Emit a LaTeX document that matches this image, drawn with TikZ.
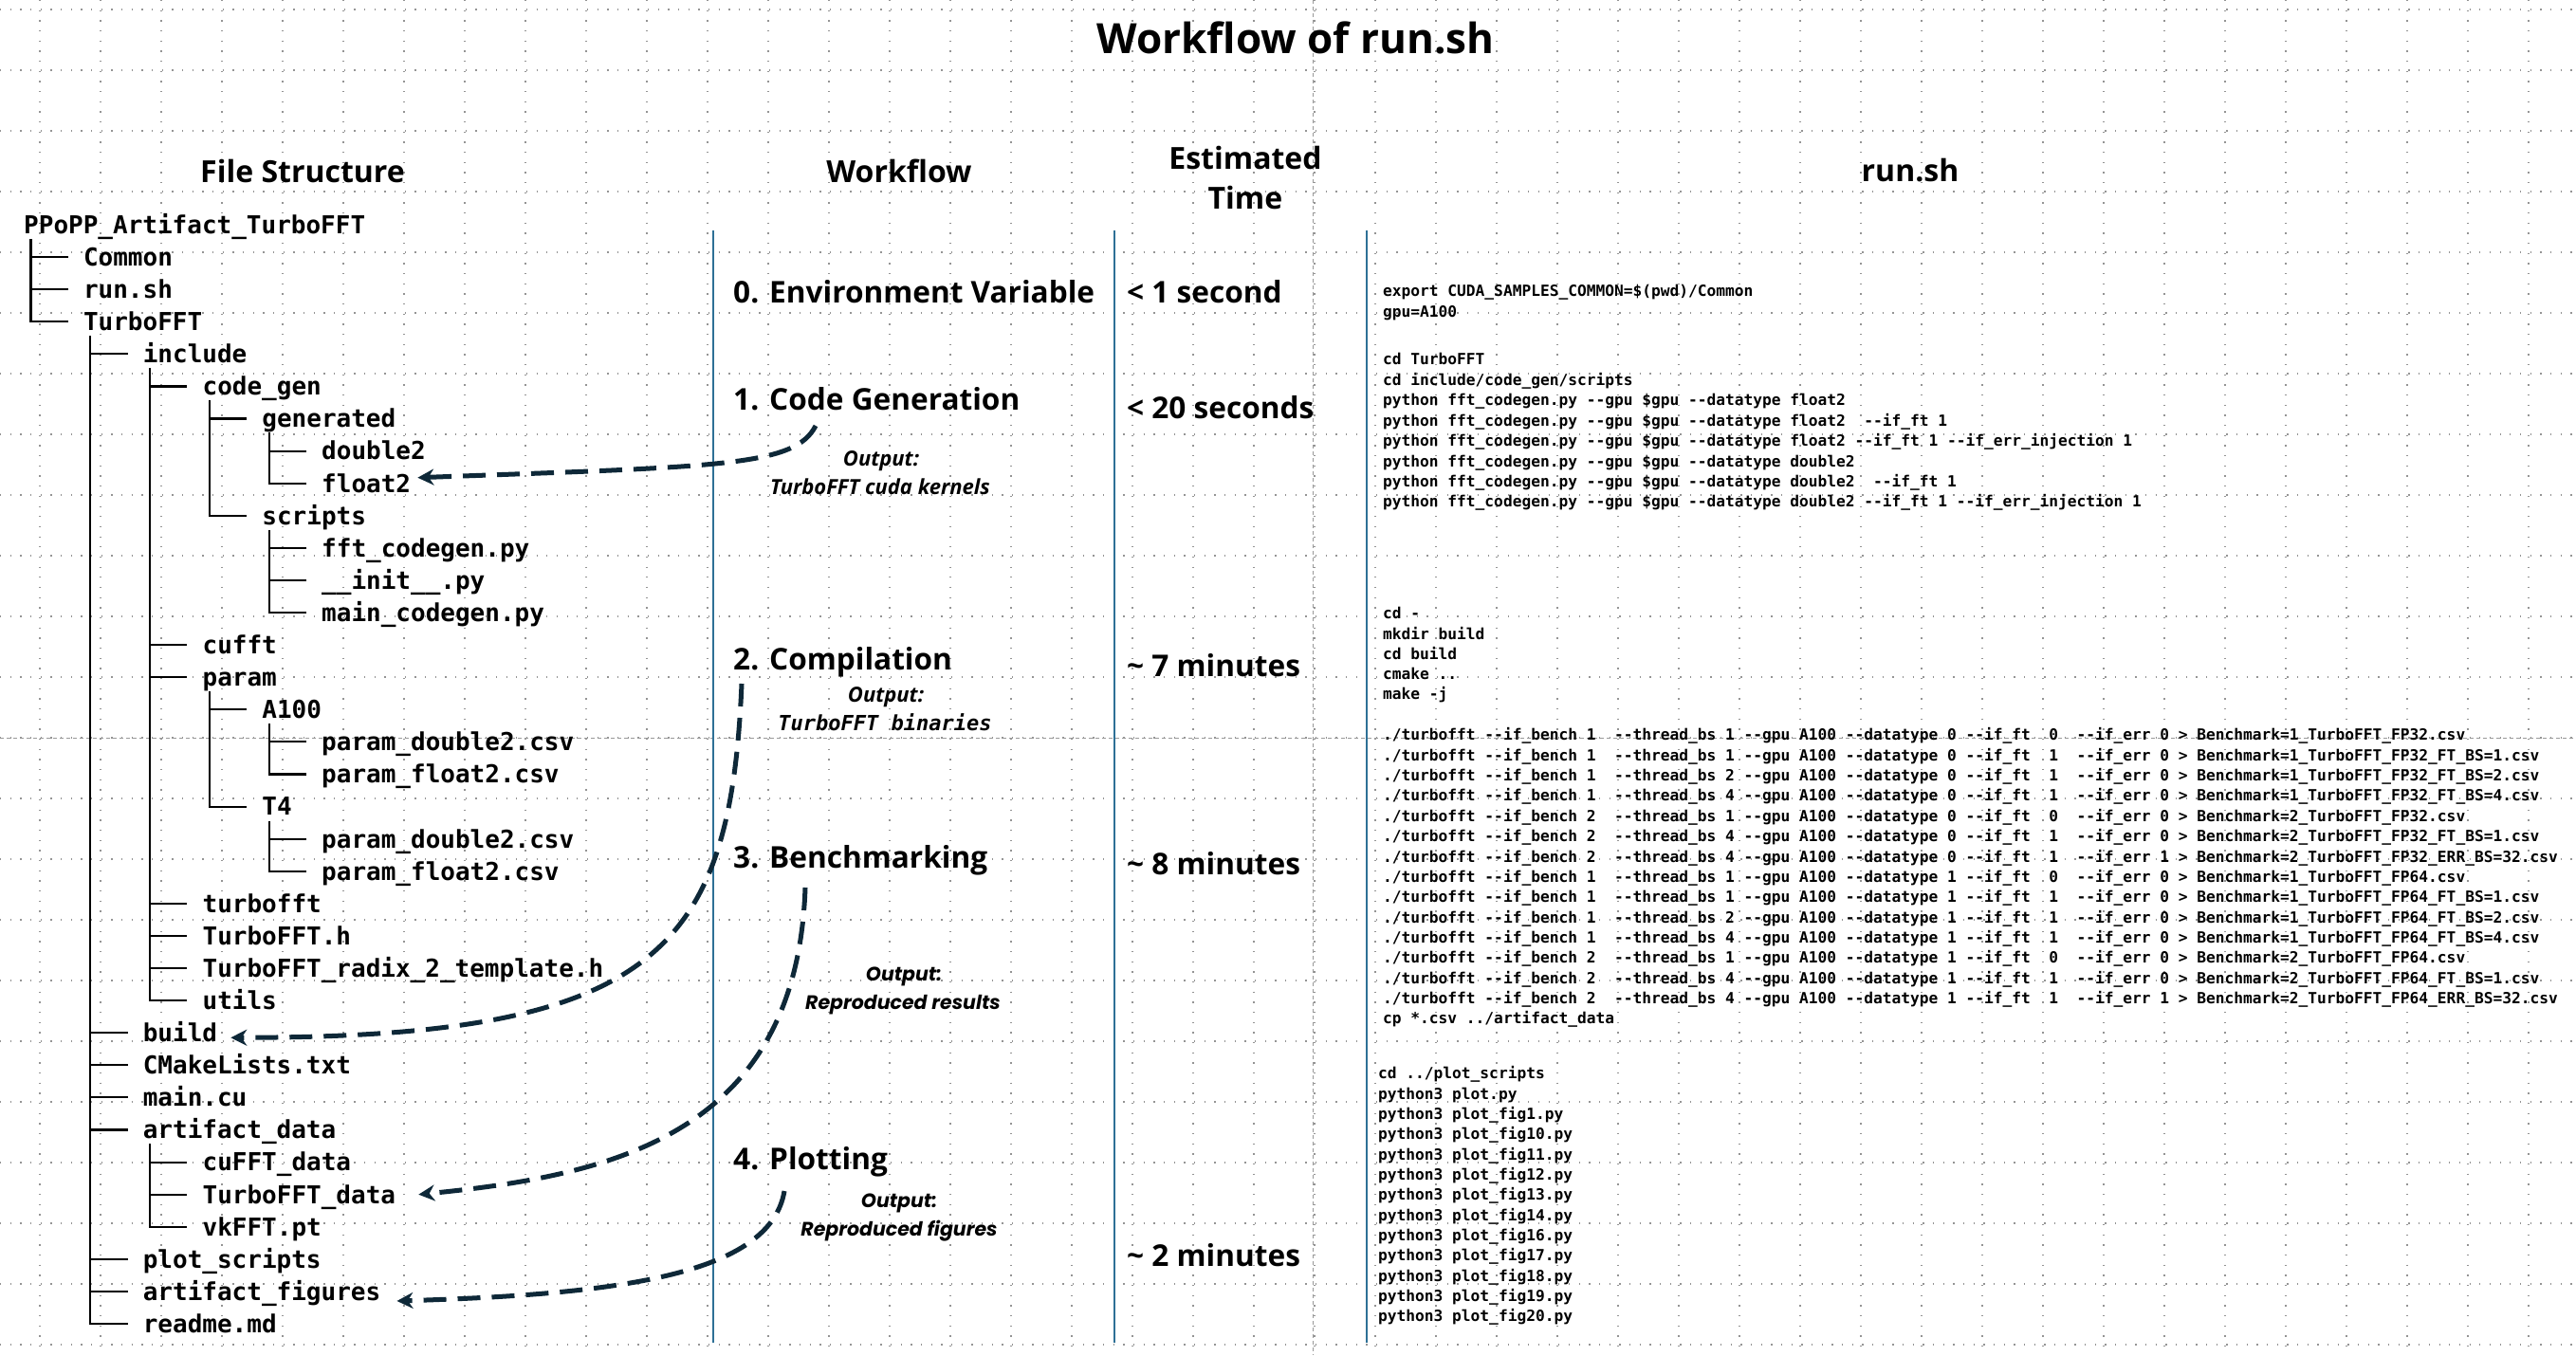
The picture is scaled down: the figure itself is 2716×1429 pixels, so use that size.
\documentclass[tikz,border=0pt]{standalone}
\usepackage{fontspec}
\setmainfont{Open Sans}
\setmonofont{DejaVu Sans Mono}
\newfontfamily\poppins{Poppins}
\usetikzlibrary{arrows.meta}
\definecolor{linkblue}{RGB}{46,112,150}
\definecolor{arrowc}{RGB}{14,40,56}
\newcommand\tbl[6]{./turbofft --if\_bench #1~~--thread\_bs #2 --gpu A100 --datatype #3 --if\_ft~~#4~~--if\_err #5 > Benchmark=#6.csv}
\begin{document}
\begin{tikzpicture}[x=1pt,y=-1pt,
  griddots/.style={line width=1.3pt, black!42, dash pattern=on 1.3pt off 9.37pt},
  guide/.style={line width=1pt, black!40, dash pattern=on 4pt off 3pt},
  colline/.style={line width=1.6pt, linkblue},
  treeline/.style={line width=2.1pt, black, line cap=rect},
  treel/.style={font=\ttfamily\bfseries\fontsize{26pt}{30pt}\selectfont, anchor=west, inner sep=0pt, text height=18.7pt, text depth=0pt},
  codel/.style={font=\ttfamily\bfseries\fontsize{16.2pt}{20pt}\selectfont, anchor=west, inner sep=0pt, text height=11.7pt, text depth=0pt},
  titlel/.style={font=\bfseries\fontsize{44pt}{50pt}\selectfont, inner sep=0pt},
  headl/.style={font=\bfseries\fontsize{32pt}{42pt}\selectfont, inner sep=0pt, align=center},
  stepl/.style={font=\bfseries\fontsize{31.6pt}{36pt}\selectfont, anchor=west, inner sep=0pt, text height=22.4pt, text depth=0pt},
  timel/.style={stepl},
  outl/.style={font=\bfseries\itshape\fontsize{22pt}{28pt}\selectfont, inner sep=0pt, text height=16pt, text depth=0pt},
  outm/.style={font=\ttfamily\bfseries\itshape\fontsize{22pt}{26pt}\selectfont, inner sep=0pt, text height=16pt, text depth=0pt},
  outp/.style={font=\poppins\bfseries\itshape\fontsize{20.5pt}{24pt}\selectfont, inner sep=0pt, text height=14.8pt, text depth=0pt},
  flowarrow/.style={line width=5pt, arrowc, dash pattern=on 24pt off 12pt, -{Stealth[length=17pt,width=17pt]}}
]
\useasboundingbox (0,0) rectangle (2716,1429);
\fill[white] (0,0) rectangle (2716,1429);
% grid
\foreach \k in {0,...,41} \draw[griddots] ({42+64*\k},0) -- ({42+64*\k},1429);
\foreach \k in {0,...,22} \draw[griddots] (0,{10+64*\k}) -- (2716,{10+64*\k});
\draw[guide] (0,778) -- (2716,778);
\draw[guide] (1384,0) -- (1384,1429);
% column separators
\draw[colline] (752,243) -- (752,1416);
\draw[colline] (1175,243) -- (1175,1416);
\draw[colline] (1441,243) -- (1441,1416);
% title and headers
\node[titlel] (title) at (1366,40) {Workflow of run.sh};
\node[headl] (hfile) at (319,180) {File Structure};
\node[headl] (hflow) at (948,180) {Workflow};
\node[headl] (htime) at (1313,187) {Estimated\\Time};
\node[headl] (hrun) at (2014,180) {run.sh};
% file tree
\foreach \r/\l/\t in {1/0/{PPoPP\_Artifact\_TurboFFT},2/1/Common,3/1/run.sh,4/1/TurboFFT,5/2/include,6/3/code\_gen,7/4/generated,8/5/double2,9/5/float2,10/4/scripts,11/5/fft\_codegen.py,12/5/\_\_init\_\_.py,13/5/main\_codegen.py,14/3/cufft,15/3/param,16/4/A100,17/5/param\_double2.csv,18/5/param\_float2.csv,19/4/T4,20/5/param\_double2.csv,21/5/param\_float2.csv,22/3/turbofft,23/3/TurboFFT.h,24/3/TurboFFT\_radix\_2\_template.h,25/3/utils,26/2/build,27/2/CMakeLists.txt,28/2/main.cu,29/2/artifact\_data,30/3/cuFFT\_data,31/3/TurboFFT\_data,32/3/vkFFT.pt,33/2/plot\_scripts,34/2/artifact\_figures,35/2/readme.md}{
  \node[treel] (t\r) at ({25+62.8*\l},{237+34.09*(\r-1)}) {\t};
  \ifnum\r>1
    \draw[treeline] ({25+62.8*\l-55.3},{237+34.09*(\r-1)}) -- ({25+62.8*\l-17},{237+34.09*(\r-1)});
  \fi
}
\foreach \p/\l/\q in {1/0/4,4/1/35,5/2/25,6/3/10,7/4/9,10/4/13,15/3/19,16/4/18,19/4/21,29/2/32}
  \draw[treeline] ({32.5+62.8*\l},{237+34.09*(\p-1)+16}) -- ({32.5+62.8*\l},{237+34.09*(\q-1)});
% workflow steps
\node[stepl] (s0) at (773,308) {0. Environment Variable};
\node[stepl] (s1) at (773,421) {1. Code Generation};
\node[stepl] (s2) at (773,695) {2. Compilation};
\node[stepl] (s3) at (773,904) {3. Benchmarking};
\node[stepl] (s4) at (773,1222) {4. Plotting};
% outputs
\node[outl] (o1a) at (929,483) {Output:};
\node[outl] (o1b) at (928,513) {TurboFFT cuda kernels};
\node[outl] (o2a) at (934,732) {Output:};
\node[outm] (o2b) at (933,762) {TurboFFT binaries};
\node[outp] (o3a) at (953,1027) {Output:};
\node[outp] (o3b) at (952,1057) {Reproduced results};
\node[outp] (o4a) at (948,1266) {Output:};
\node[outp] (o4b) at (948,1296) {Reproduced figures};
% times
\node[timel] (e0) at (1188,308) {< 1 second};
\node[timel] (e1) at (1188,430) {< 20 seconds};
\node[timel] (e2) at (1188,702) {\textasciitilde{} 7 minutes};
\node[timel] (e3) at (1188,911) {\textasciitilde{} 8 minutes};
\node[timel] (e4) at (1188,1324) {\textasciitilde{} 2 minutes};
% run.sh code
\foreach \t [count=\i] in {{export CUDA\_SAMPLES\_COMMON=\$(pwd)/Common},{gpu=A100}}
  \node[codel] (ca\i) at (1458,{307+21.2*(\i-1)}) {\t};
\foreach \t [count=\i] in {{cd TurboFFT},{cd include/code\_gen/scripts},
  {python fft\_codegen.py --gpu \$gpu --datatype float2},
  {python fft\_codegen.py --gpu \$gpu --datatype float2~~--if\_ft 1},
  {python fft\_codegen.py --gpu \$gpu --datatype float2 --if\_ft 1 --if\_err\_injection 1},
  {python fft\_codegen.py --gpu \$gpu --datatype double2},
  {python fft\_codegen.py --gpu \$gpu --datatype double2~~--if\_ft 1},
  {python fft\_codegen.py --gpu \$gpu --datatype double2 --if\_ft 1 --if\_err\_injection 1}}
  \node[codel] (cb\i) at (1458,{379+21.43*(\i-1)}) {\t};
\foreach \t [count=\i] in {{cd -},{mkdir build},{cd build},{cmake ..},{make -j}}
  \node[codel] (cc\i) at (1458,{647+21.25*(\i-1)}) {\t};
\foreach \t [count=\i] in {{\tbl{1}{1}{0}{0}{0}{1\_TurboFFT\_FP32}},
  {\tbl{1}{1}{0}{1}{0}{1\_TurboFFT\_FP32\_FT\_BS=1}},
  {\tbl{1}{2}{0}{1}{0}{1\_TurboFFT\_FP32\_FT\_BS=2}},
  {\tbl{1}{4}{0}{1}{0}{1\_TurboFFT\_FP32\_FT\_BS=4}},
  {\tbl{2}{1}{0}{0}{0}{2\_TurboFFT\_FP32}},
  {\tbl{2}{4}{0}{1}{0}{2\_TurboFFT\_FP32\_FT\_BS=1}},
  {\tbl{2}{4}{0}{1}{1}{2\_TurboFFT\_FP32\_ERR\_BS=32}},
  {\tbl{1}{1}{1}{0}{0}{1\_TurboFFT\_FP64}},
  {\tbl{1}{1}{1}{1}{0}{1\_TurboFFT\_FP64\_FT\_BS=1}},
  {\tbl{1}{2}{1}{1}{0}{1\_TurboFFT\_FP64\_FT\_BS=2}},
  {\tbl{1}{4}{1}{1}{0}{1\_TurboFFT\_FP64\_FT\_BS=4}},
  {\tbl{2}{1}{1}{0}{0}{2\_TurboFFT\_FP64}},
  {\tbl{2}{4}{1}{1}{0}{2\_TurboFFT\_FP64\_FT\_BS=1}},
  {\tbl{2}{4}{1}{1}{1}{2\_TurboFFT\_FP64\_ERR\_BS=32}},
  {cp *.csv ../artifact\_data}}
  \node[codel] (cd\i) at (1458,{775+21.36*(\i-1)}) {\t};
\foreach \t [count=\i] in {{cd ../plot\_scripts},{python3 plot.py},{python3 plot\_fig1.py},
  {python3 plot\_fig10.py},{python3 plot\_fig11.py},{python3 plot\_fig12.py},
  {python3 plot\_fig13.py},{python3 plot\_fig14.py},{python3 plot\_fig16.py},
  {python3 plot\_fig17.py},{python3 plot\_fig18.py},{python3 plot\_fig19.py},
  {python3 plot\_fig20.py}}
  \node[codel] (ce\i) at (1453,{1132+21.33*(\i-1)}) {\t};
% flow arrows
\coordinate (a1s) at (860,449);
\coordinate (a2s) at (782,721);
\coordinate (a3s) at (849,936);
\coordinate (a4s) at (827,1256);
\draw[flowarrow] (a1s) .. controls (838,492) and (760,492) .. ([xshift=7pt,yshift=6pt]t9.east);
\draw[flowarrow] (a2s) .. controls (770,1005) and (690,1094) .. ([xshift=14pt,yshift=-5pt]t26.east);
\draw[flowarrow] (a3s) .. controls (840,1200) and (640,1240) .. ([xshift=24pt]t31.east);
\draw[flowarrow] (a4s) .. controls (812,1345) and (650,1365) .. ([xshift=17pt,yshift=-10pt]t34.east);
\end{tikzpicture}
\end{document}
